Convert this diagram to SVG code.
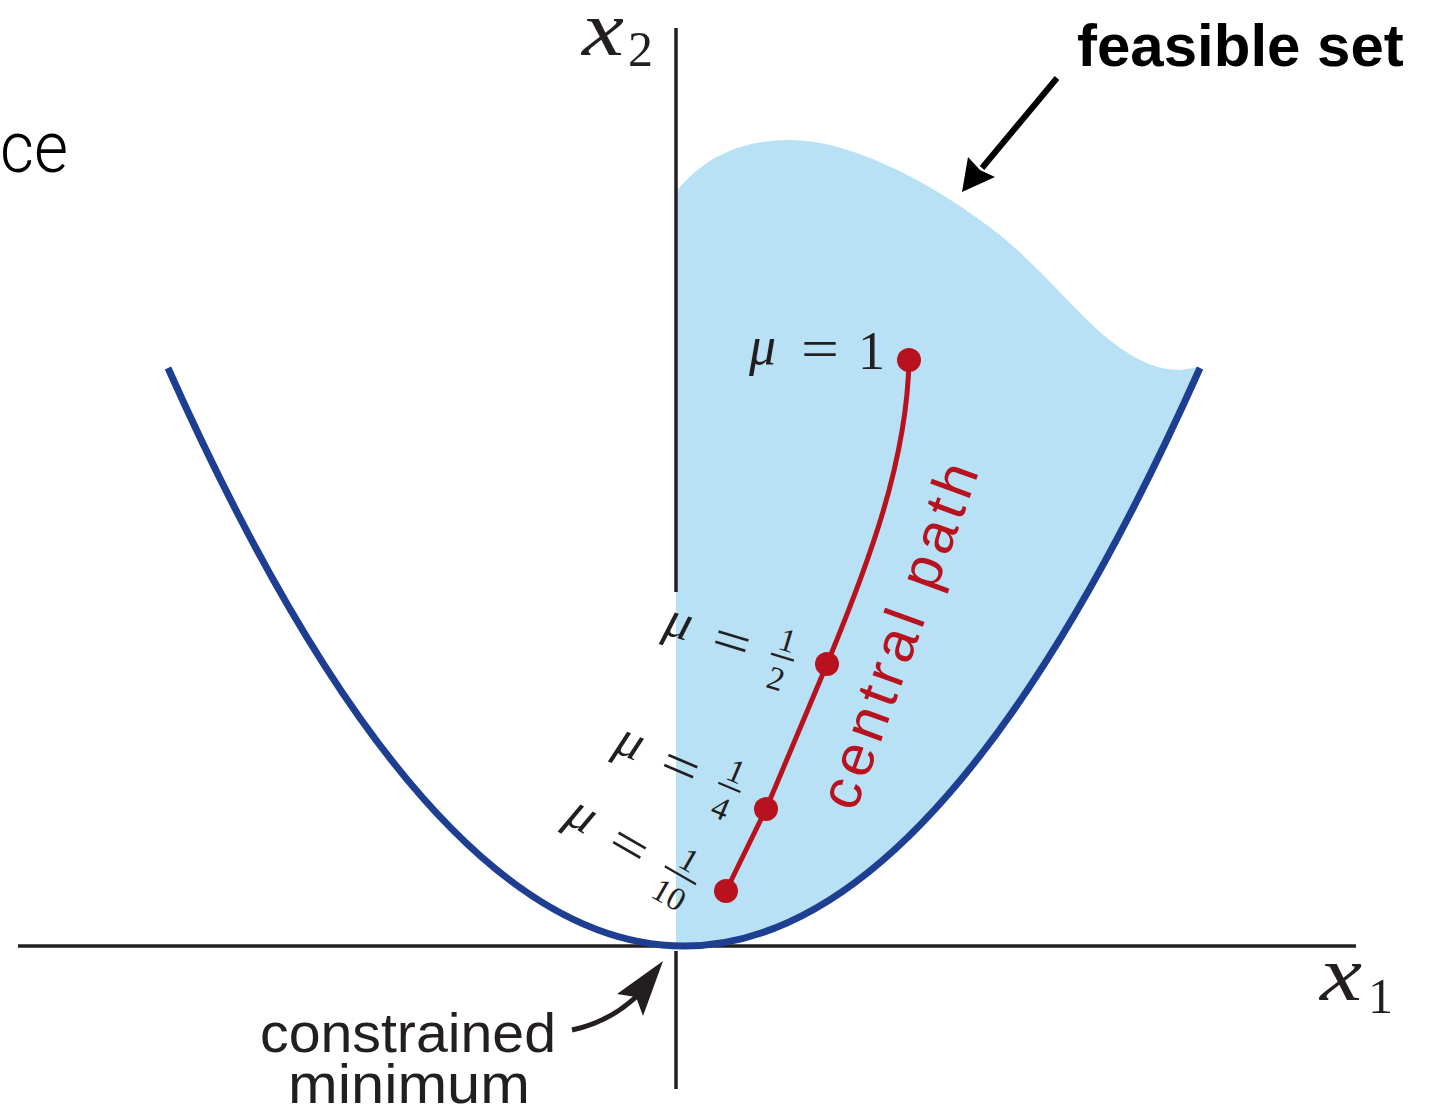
<svg xmlns="http://www.w3.org/2000/svg" width="1438" height="1109" viewBox="0 0 1438 1109">
<style>
.ax{stroke:#231f20;stroke-width:3.5;fill:none}
.mi{font-family:"Liberation Serif","DejaVu Serif",serif;font-style:italic;font-weight:normal;fill:#231f20}
.mr{font-family:"Liberation Serif",serif;fill:#231f20}
.dot{fill:#b7121e}
.lbl{font-family:"Liberation Sans",sans-serif;fill:#231f20}
</style>
<rect width="1438" height="1109" fill="#ffffff"/>
<g id="feasible-region">
<path d="M676,946 L676,192 C705,155 745,140 790,140 C860,140 950,195 1000,235 C1040,268 1070,305 1100,332 C1130,358 1155,370 1180,370 L1200,367 Q938,955 676,946 Z" fill="#b8e1f6"/>
</g>
<g id="axes">
<line class="ax" x1="18" y1="946" x2="1356" y2="946"/>
<line class="ax" x1="676" y1="28" x2="676" y2="592"/>
<line class="ax" x1="676" y1="951" x2="676" y2="1089"/>
<text class="mi" x="582" y="55" font-size="78" textLength="42" lengthAdjust="spacingAndGlyphs">x</text>
<text class="mr" x="628" y="66" font-size="50">2</text>
<text class="mi" x="1320" y="1000" font-size="78" textLength="42" lengthAdjust="spacingAndGlyphs">x</text>
<text class="mr" x="1368" y="1013" font-size="50">1</text>
</g>
<g id="constraint-curve">
<path d="M168,368 Q684,1524 1200,368" fill="none" stroke="#1e3e91" stroke-width="7"/>
</g>
<g id="central-path">
<path d="M909,360 C907,460 870,560 827,664 C805,716 786,762 766,809 L726,891" fill="none" stroke="#b7121e" stroke-width="5"/>
<circle class="dot" cx="909" cy="360" r="12"/>
<circle class="dot" cx="827" cy="664" r="12"/>
<circle class="dot" cx="766" cy="809" r="12"/>
<circle class="dot" cx="726" cy="891" r="12"/>
<text x="855" y="813" transform="rotate(-70 855 813)" font-family="'Liberation Sans',sans-serif" font-size="58" letter-spacing="5.5" fill="#b7121e">central path</text>
</g>
<g id="label-mu1">
<text class="mi" x="749" y="364" font-size="54">μ</text>
<text class="mr" x="801" y="368" font-size="56" textLength="38" lengthAdjust="spacingAndGlyphs">=</text>
<text class="mr" x="858" y="369" font-size="54">1</text>
</g>
<g id="label-mu-half" transform="translate(664,634) rotate(17)">
<text class="mi" x="-2" y="0" font-size="52">μ</text>
<text class="mr" x="48" y="5" font-size="54" textLength="38" lengthAdjust="spacingAndGlyphs">=</text>
<text class="mr" x="120" y="-19" font-size="33" text-anchor="middle">1</text>
<line x1="108" y1="-12.5" x2="132" y2="-12.5" stroke="#231f20" stroke-width="2.2"/>
<text class="mr" x="120" y="21" font-size="33" text-anchor="middle">2</text>
</g>
<g id="label-mu-quarter" transform="translate(614,752) rotate(23)">
<text class="mi" x="-2" y="0" font-size="52">μ</text>
<text class="mr" x="48" y="5" font-size="54" textLength="38" lengthAdjust="spacingAndGlyphs">=</text>
<text class="mr" x="120" y="-19" font-size="33" text-anchor="middle">1</text>
<line x1="108" y1="-12.5" x2="132" y2="-12.5" stroke="#231f20" stroke-width="2.2"/>
<text class="mr" x="120" y="21" font-size="33" text-anchor="middle">4</text>
</g>
<g id="label-mu-tenth" transform="translate(565,823) rotate(30)">
<text class="mi" x="-2" y="0" font-size="52">μ</text>
<text class="mr" x="48" y="5" font-size="54" textLength="38" lengthAdjust="spacingAndGlyphs">=</text>
<text class="mr" x="126" y="-19" font-size="33" text-anchor="middle">1</text>
<line x1="108" y1="-12.5" x2="144" y2="-12.5" stroke="#231f20" stroke-width="2.2"/>
<text class="mr" x="126" y="21" font-size="33" text-anchor="middle">10</text>
</g>
<g id="label-feasible">
<text x="1077" y="66" font-family="'Liberation Sans',sans-serif" font-weight="bold" font-size="60" fill="#000">feasible set</text>
</g>
<g id="label-constrained">
<text class="lbl" x="408" y="1052" font-size="56" text-anchor="middle" textLength="296" lengthAdjust="spacingAndGlyphs">constrained</text>
<text class="lbl" x="409" y="1103" font-size="56" text-anchor="middle" textLength="242" lengthAdjust="spacingAndGlyphs">minimum</text>
</g>
<g id="title-fragment">
<text x="0" y="172" font-family="Roboto,'Liberation Sans',sans-serif" font-weight="300" font-size="72" fill="#000" textLength="68" lengthAdjust="spacingAndGlyphs">ce</text>
</g>
<g id="connectors">
<line x1="1057" y1="78" x2="982" y2="168" stroke="#000" stroke-width="6"/>
<polygon points="962,192 968,157 980,170 995,177" fill="#000"/>
<path d="M572,1030 C600,1024 620,1012 637,996" fill="none" stroke="#231f20" stroke-width="5"/>
<polygon points="663,961 617,994 636,997 643,1016" fill="#231f20"/>
</g>
</svg>
